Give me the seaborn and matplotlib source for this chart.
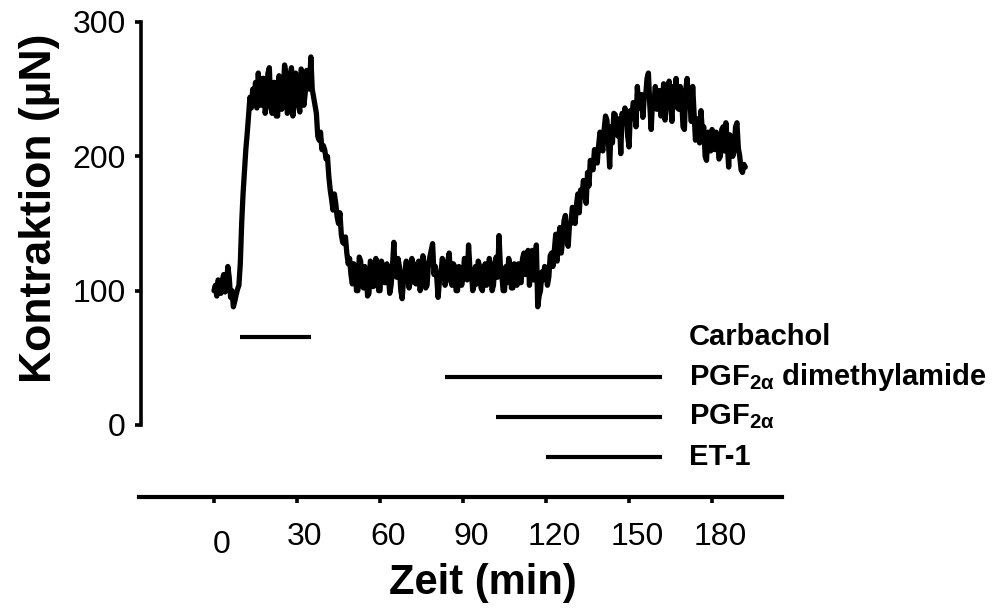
import matplotlib
matplotlib.use("Agg")
import matplotlib.pyplot as plt
from matplotlib import font_manager, transforms
import numpy as np
import pandas as pd
import seaborn as sns

# Isometric force recording, sampled every 30 s (0 ... 192 min)
minutes = np.arange(0, 192.5, 0.5)
force_uN = [
    100, 104, 96, 108, 104, 98, 108, 112, 99, 104,
    118, 110, 95, 100, 88, 92, 97, 101, 104, 120,
    150, 172, 188, 205, 217, 230, 244, 236, 250, 242,
    255, 236, 262, 245, 238, 258, 258, 232, 240, 262,
    266, 238, 232, 255, 255, 230, 230, 260, 250, 235,
    245, 268, 262, 232, 236, 258, 266, 230, 240, 262,
    258, 240, 233, 265, 262, 238, 248, 264, 258, 250,
    274, 250, 244, 238, 232, 215, 212, 218, 205, 208,
    205, 198, 200, 185, 175, 168, 160, 172, 165, 155,
    150, 158, 142, 136, 135, 140, 128, 120, 124, 112,
    105, 120, 118, 100, 100, 125, 122, 104, 102, 118,
    114, 96, 98, 122, 120, 103, 104, 124, 116, 100,
    100, 122, 118, 106, 106, 120, 112, 98, 104, 118,
    136, 112, 110, 124, 118, 100, 94, 108, 115, 122,
    112, 102, 108, 124, 118, 106, 105, 120, 122, 100,
    110, 126, 116, 102, 104, 120, 125, 130, 135, 112,
    118, 110, 95, 108, 112, 124, 120, 104, 108, 122,
    128, 110, 104, 120, 118, 100, 100, 118, 114, 104,
    110, 124, 122, 108, 134, 116, 115, 100, 104, 118,
    105, 122, 118, 102, 100, 116, 120, 104, 108, 124,
    116, 100, 104, 120, 125, 110, 141, 118, 112, 100,
    100, 118, 106, 124, 118, 102, 102, 120, 114, 104,
    120, 106, 106, 124, 128, 112, 118, 130, 104, 118,
    130, 108, 122, 134, 88, 96, 100, 114, 108, 118,
    115, 104, 110, 126, 128, 118, 130, 142, 122, 138,
    147, 128, 138, 152, 156, 140, 133, 150, 150, 162,
    160, 150, 164, 172, 158, 175, 170, 182, 177, 165,
    188, 178, 197, 192, 190, 205, 202, 195, 208, 218,
    214, 204, 220, 230, 227, 212, 192, 222, 210, 232,
    231, 218, 215, 228, 202, 232, 225, 236, 233, 215,
    207, 234, 228, 240, 240, 222, 252, 236, 236, 246,
    229, 244, 245, 258, 262, 238, 220, 242, 240, 252,
    235, 248, 249, 230, 238, 254, 227, 240, 245, 256,
    240, 226, 252, 240, 258, 236, 235, 252, 244, 222,
    220, 250, 258, 238, 240, 226, 252, 232, 212, 226,
    228, 210, 234, 218, 222, 200, 197, 218, 215, 204,
    220, 206, 205, 218, 214, 198, 200, 220, 222, 204,
    225, 210, 192, 216, 210, 200, 205, 222, 225, 206,
    200, 190, 188, 194, 192,
]

# Drug application periods (min)
treat_names = ["Carbachol", "PGF$_{\\mathbf{2α}}$ dimethylamide",
               "PGF$_{\\mathbf{2α}}$", "ET-1"]
treat_start = [9.5, 83.5, 102, 120]
treat_end = [35, 162, 162, 162]

x_ticks = [0, 30, 60, 90, 120, 150, 180]
y_ticks = [0, 100, 200, 300]

df = pd.DataFrame({"Zeit": minutes, "Kontraktion": force_uN})

sns.set_style("white")
plt.rcParams["font.family"] = ["Liberation Sans", "DejaVu Sans"]
plt.rcParams["text.color"] = "black"
plt.rcParams["mathtext.fontset"] = "custom"
plt.rcParams["mathtext.rm"] = "Liberation Sans"
plt.rcParams["mathtext.bf"] = "Liberation Sans:bold"
plt.rcParams["mathtext.it"] = "Liberation Sans:italic"

names = {f.name for f in font_manager.fontManager.ttflist}
narrow = "Liberation Sans Narrow" if "Liberation Sans Narrow" in names else "Liberation Sans"

W, H = 995, 611
fig = plt.figure(figsize=(W / 100, H / 100), dpi=100)
fig.patch.set_facecolor("white")

# main panel: left spine at x=141 px, y from 22 px (300) to 425 px (0)
ax = fig.add_axes([141 / W, (H - 425) / H, 641 / W, 403 / H])
ax.patch.set_alpha(0)
px_per_min = 2.767
t0_px = 214
xlim = ((141 - t0_px) / px_per_min, (782 - t0_px) / px_per_min)

sns.lineplot(data=df, x="Zeit", y="Kontraktion", ax=ax, color="black",
             linewidth=3.8, sort=False, estimator=None)
ax.set_xlim(*xlim)
ax.set_ylim(0, 300)
for s in ("top", "right", "bottom"):
    ax.spines[s].set_visible(False)
ax.spines["left"].set_linewidth(2.6)
ax.spines["left"].set_color("black")
ax.set_xticks([])
ax.set_yticks(y_ticks)
ax.tick_params(axis="y", left=True, direction="out", length=4, width=2.6,
               pad=7, labelsize=23, colors="black")
ax.set_xlabel("")
ax.set_ylabel("")

# treatment bars with their names in a column on the right
row_y = [65.5 - 29.8 * i for i in range(len(treat_names))]
for name, a, b, y in zip(treat_names, treat_start, treat_end, row_y):
    ax.hlines(y, a, b, color="black", linewidth=3.0, clip_on=False)
    ax.text((689 - t0_px) / px_per_min, y, name, ha="left", va="center",
            fontsize=21, fontweight="bold", color="black", clip_on=False)

# detached time axis
axx = fig.add_axes([139 / W, (H - 497) / H, 643 / W, 0.001])
axx.patch.set_alpha(0)
axx.set_xlim((139 - t0_px) / px_per_min, (782 - t0_px) / px_per_min)
for s in ("top", "right", "left"):
    axx.spines[s].set_visible(False)
axx.spines["bottom"].set_linewidth(3.0)
axx.spines["bottom"].set_color("black")
axx.set_yticks([])
axx.set_xticks(x_ticks)
axx.set_xticklabels([str(v) for v in x_ticks], fontfamily=narrow)
axx.tick_params(axis="x", bottom=True, direction="out", length=4, width=2.6,
                pad=14, labelsize=23, colors="black")
for i, lab in enumerate(axx.get_xticklabels()):
    dy = -8 if i == 0 else 0
    shift = transforms.ScaledTranslation(8 / 100, dy / 100, fig.dpi_scale_trans)
    lab.set_transform(lab.get_transform() + shift)

fig.text(483 / W, 1 - 583 / H, "Zeit (min)", ha="center", va="center",
         fontsize=30, fontweight="bold", color="black")
fig.text(40 / W, 1 - 208 / H, "Kontraktion (µN)", ha="center", va="center",
         rotation=90, fontsize=32, fontweight="bold", color="black")

fig.savefig("out.png", dpi=100, facecolor="white")
